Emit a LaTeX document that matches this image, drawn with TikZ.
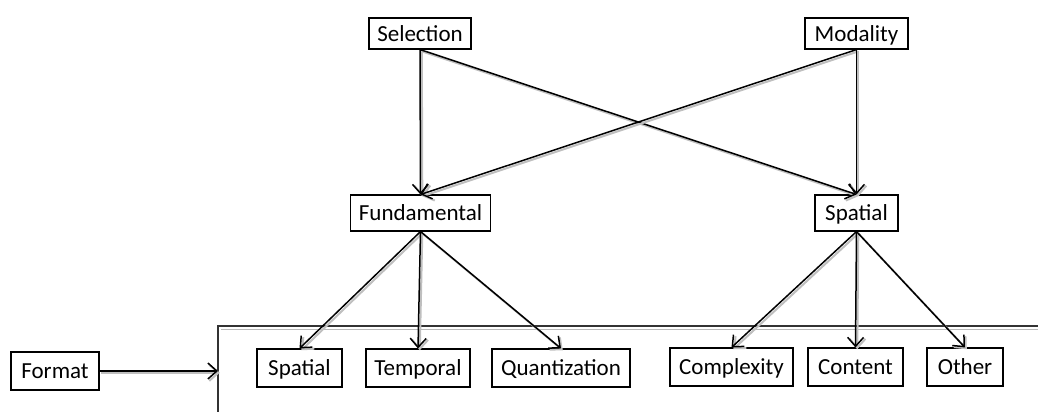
\documentclass[tikz,border=0pt]{standalone}
\usepackage{fontspec}
\setmainfont{Carlito}
\usetikzlibrary{arrows.meta}

\tikzset{
  box/.style={draw, line width=0.55pt, fill=white, font=\fontsize{11.5}{13}\selectfont,
    inner sep=0pt, text height=9.2pt, text depth=1.4pt, minimum height=#1},
  box/.default=19pt,
  link/.style={-{Straight Barb[length=4.5pt,width=8pt]}, line width=0.75pt,
    preaction={draw=gray!50, line width=1pt, transform canvas={shift={(0.9pt,-0.9pt)}}}},
}

\begin{document}
\begin{tikzpicture}[x=0.5pt, y=-0.5pt]
      \useasboundingbox (0,0) rectangle (1038,412);
      % top level
      \node[box=15.5pt, minimum width=51pt] (selection) at (420,33.5) {Selection};
      \node[box=15.5pt, minimum width=51.5pt] (modality) at (856.5,33.5) {Modality};
      % middle level
      \node[box=18pt, minimum width=70pt] (fundamental) at (420.5,213) {Fundamental};
      \node[box=18pt, minimum width=41.5pt] (spatialmid) at (856.5,213) {Spatial};
      % frame round the format classes
      \draw[gray!55, line width=0.9pt] (221,329.5) -- (1038,329.5);
      \draw[black!80, line width=0.75pt] (1038,326) -- (218,326) -- (218,412);
      \coordinate (framein) at (218,371);
      % bottom level
      \node[box, minimum width=42.5pt] (spatial) at (299.5,368) {Spatial};
      \node[box, minimum width=52pt] (temporal) at (418,368) {Temporal};
      \node[box, minimum width=69pt] (quant) at (561,368) {Quantization};
      \node[box, minimum width=61.5pt] (complexity) at (731.5,367) {Complexity};
      \node[box, minimum width=47.5pt] (content) at (855.5,367) {Content};
      \node[box, minimum width=38pt] (other) at (965,367) {Other};
      \node[box, minimum width=44pt] (format) at (55,371) {Format};
      % connectors
      \draw[link] (selection.south) -- (fundamental.north);
      \draw[link] (selection.south) -- (spatialmid.north);
      \draw[link] (modality.south) -- (fundamental.north);
      \draw[link] (modality.south) -- (spatialmid.north);
      \draw[link] (fundamental.south) -- (spatial.north);
      \draw[link] (fundamental.south) -- (temporal.north);
      \draw[link] (fundamental.south) -- (quant.north);
      \draw[link] (spatialmid.south) -- (complexity.north);
      \draw[link] (spatialmid.south) -- (content.north);
      \draw[link] (spatialmid.south) -- (other.north);
      \draw[link] (format.east) -- (framein);
\end{tikzpicture}
\end{document}
